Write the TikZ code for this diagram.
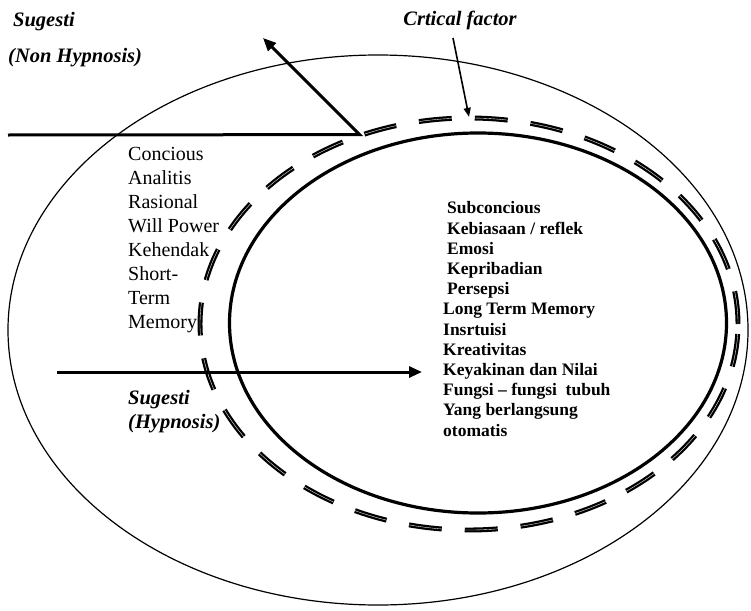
\documentclass[tikz,border=0pt]{standalone}
\usepackage{fontspec}
\setmainfont{Liberation Serif}
\usetikzlibrary{arrows.meta,positioning,shapes.geometric}
\tikzset{
  ring/.style={draw, ellipse, inner sep=0pt},
  list/.style={align=left, inner sep=0pt, anchor=north west},
  label/.style={font=\fontsize{20.5}{24.5}\selectfont\bfseries\itshape, inner sep=0pt},
  arrow/.style={-{Triangle[length=13pt, width=11pt]}, line width=3pt, line join=miter},
  thinarrow/.style={-{Triangle[length=9pt, width=7pt]}, line width=1.6pt}
}
\begin{document}
\begin{tikzpicture}[x=1pt, y=-1pt]
  \useasboundingbox (0,0) rectangle (751,610);
  % the three layers of the mind
  \node[ring, line width=1.2pt, minimum width=740pt, minimum height=550pt] (mind) at (378,330) {};
  \node[ring, line width=2.3pt, double, double distance=0.35pt, dash pattern=on 33pt off 23pt,
        minimum width=538pt, minimum height=412pt] (critical) at (469,324) {};
  \node[ring, line width=3.2pt, minimum width=497pt, minimum height=380pt] (subc) at (478,323) {};

  \node[label, anchor=base west] (sugtop) at (13,27) {Sugesti};
  \node[label, anchor=base west] (nonhyp) at (8,63) {(Non Hypnosis)};
  \node[label, anchor=base] (cf) at (460,26) {Crtical factor};

  \node[list, font=\fontsize{20}{24}\selectfont] (con) at (128,147.5)
    {Concious\\Analitis\\Rasional\\Will Power\\Kehendak\\Short-\\Term\\Memory};
  \node[list, font=\fontsize{17.5}{20.2}\selectfont\bfseries] (sub) at (443,201.5)
    {\hspace{4pt}Subconcious\\\hspace{4pt}Kebiasaan / reflek\\\hspace{4pt}Emosi\\
     \hspace{4pt}Kepribadian\\\hspace{4pt}Persepsi\\Long Term Memory\\Insrtuisi\\
     Kreativitas\\Keyakinan dan Nilai\\Fungsi -- fungsi\ \ tubuh\\Yang berlangsung\\otomatis};
  \node[label, list] (hyp) at (128,390) {Sugesti\\(Hypnosis)};

  \coordinate (lefttop) at (8,135);
  \coordinate (nhtip) at (263,38);
  \coordinate (cftail) at (453,38);
  \coordinate (hyptail) at (57,372);
  \coordinate (hyptip) at (422,372);

  \draw[arrow] (lefttop) -- (critical.120.4) -- (nhtip);
  \draw[thinarrow] (cftail) -- (critical.north);
  \draw[arrow] (hyptail) -- (hyptip);
\end{tikzpicture}
\end{document}
